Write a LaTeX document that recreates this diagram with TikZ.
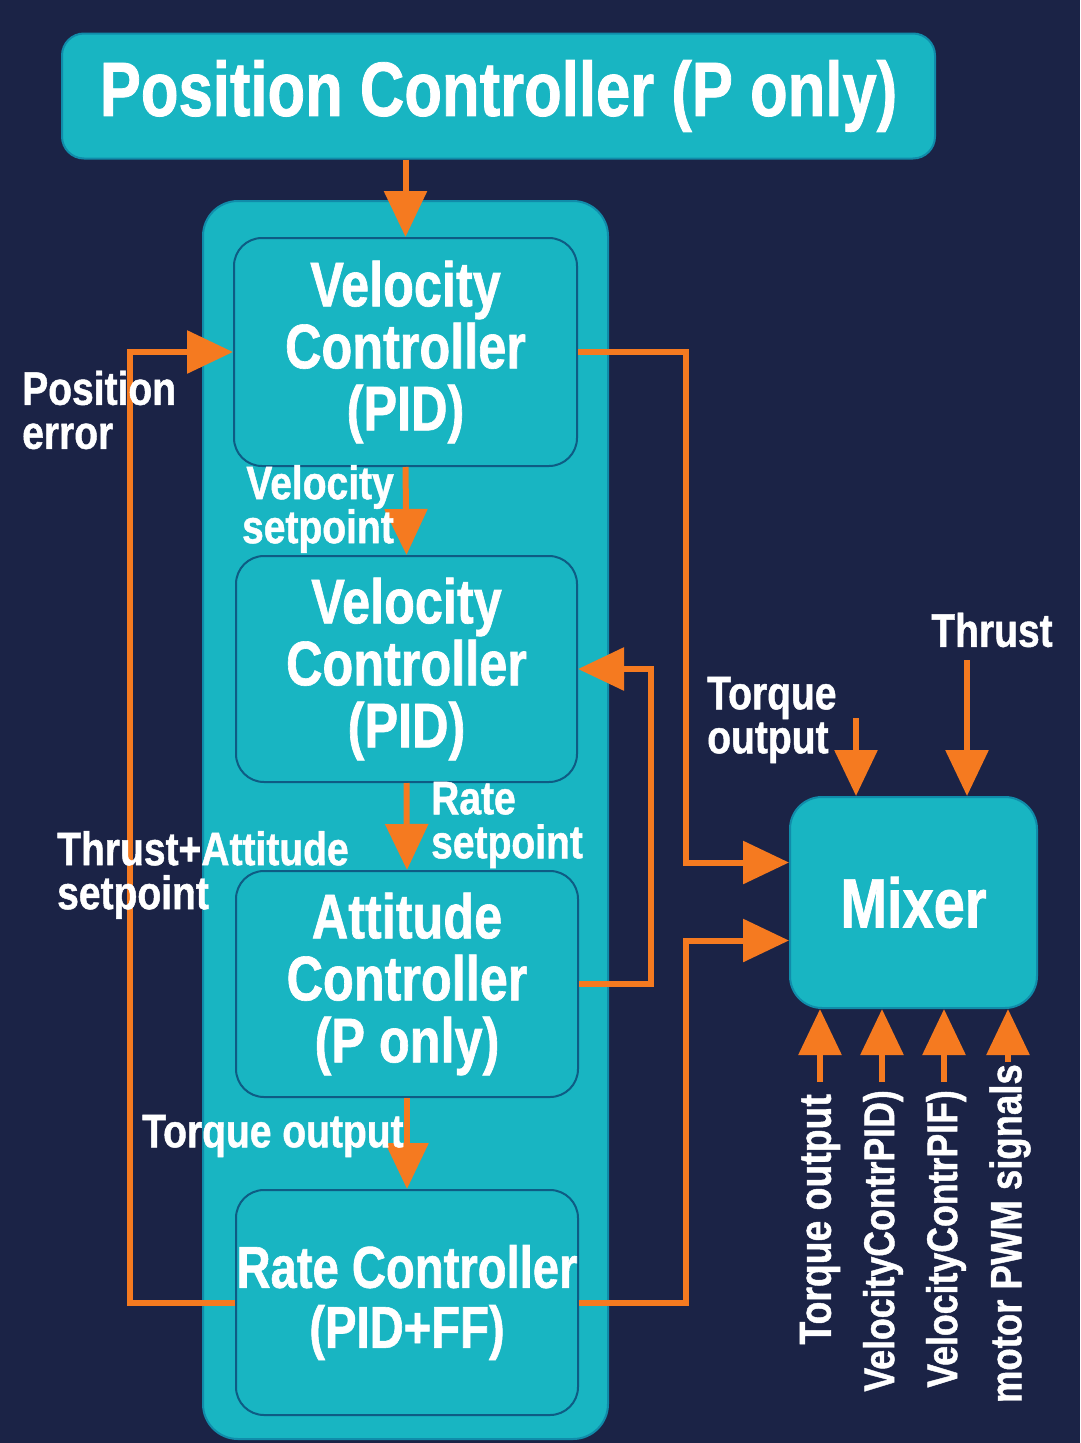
\documentclass[tikz,border=0pt]{standalone}
\usepackage{fontspec}
\newfontfamily\df[FakeStretch=0.8,FakeBold=1]{Liberation Sans}
\newfontfamily\dl[FakeStretch=0.83,FakeBold=1]{Liberation Sans}
\usetikzlibrary{arrows.meta}
\definecolor{bgc}{RGB}{27,35,70}
\definecolor{teal1}{RGB}{24,181,194}
\definecolor{edge1}{RGB}{14,92,132}
\definecolor{edge2}{RGB}{16,140,170}
\definecolor{org}{RGB}{245,122,32}
\begin{document}
\begin{tikzpicture}[x=1pt,y=-1pt,
 box/.style={draw=edge1, line width=2pt, fill=teal1, rounded corners=28pt, text=white, align=center, inner sep=0pt},
 boxtxt/.style={font=\df\bfseries\fontsize{63pt}{62pt}\selectfont},
 lbl/.style={text=white, inner sep=0pt, font=\dl\bfseries\fontsize{47pt}{44pt}\selectfont},
 arr/.style={draw=org, line width=6pt, -{Triangle[length=46pt,width=42pt]}}]
\fill[bgc] (0,0) rectangle (1080,1443);
\useasboundingbox (0,0) rectangle (1080,1443);

% title
\node[box, draw=edge2, minimum width=873pt, minimum height=125pt, rounded corners=22pt,
  font=\df\bfseries\fontsize{77pt}{76pt}\selectfont] (pos) at (498.5,96) {Position Controller (P only)};

% container
\node[box, draw=edge2, minimum width=405pt, minimum height=1238pt, rounded corners=35pt] (cont) at (405.5,820) {};

% inner boxes
\node[box, boxtxt, minimum width=343pt, minimum height=228pt] (v1) at (405.5,352) {Velocity\\Controller\\(PID)};
\node[box, boxtxt, minimum width=341pt, minimum height=226pt] (v2) at (406.5,669) {Velocity\\Controller\\(PID)};
\node[box, boxtxt, minimum width=342pt, minimum height=226pt] (att) at (407,984) {Attitude\\Controller\\(P only)};
\node[box, font=\df\bfseries\fontsize{59pt}{60pt}\selectfont, minimum width=342pt, minimum height=225pt] (rc) at (407,1302.5) {Rate Controller\\(PID+FF)};

% mixer
\node[box, draw=edge2, font=\df\bfseries\fontsize{70pt}{70pt}\selectfont, minimum width=247pt, minimum height=211pt, rounded corners=32pt] (mix) at (913.5,902.5) {Mixer};

% vertical chain
\draw[arr] (pos.south -| v1.north) -- (v1.north);
\draw[arr] (v1.south) -- (v2.north);
\draw[arr] (v2.south) -- (att.north);
\draw[arr] (att.south) -- (rc.north);

% loops
\draw[arr] (rc.west) -- ++(-105,0) |- (v1.west);
\draw[arr] (v1.east) -- ++(108,0) |- ([yshift=40pt]mix.west);
\draw[arr] (att.east) -- ++(72,0) |- (v2.east);
\draw[arr] (rc.east) -- ++(107,0) |- ([yshift=-38pt]mix.west);

% inputs to mixer
\coordinate (tq) at (856,718);
\coordinate (th) at (967,660);
\draw[arr] (tq) -- (tq |- mix.north);
\draw[arr] (th) -- (th |- mix.north);
\coordinate (b1) at (820,1082);
\coordinate (b2) at (882,1082);
\coordinate (b3) at (944,1082);
\coordinate (b4) at (1008,1062);
\draw[arr] (b1) -- (b1 |- mix.south);
\draw[arr] (b2) -- (b2 |- mix.south);
\draw[arr] (b3) -- (b3 |- mix.south);
\draw[arr] (b4) -- (b4 |- mix.south);

% labels
\node[lbl, align=left, anchor=west] (lpe) at (22,410) {Position\\error};
\node[lbl, align=right, anchor=east] (lvs) at (394,509) {Velocity\\setpoint};
\node[lbl, align=left, anchor=west] (lrs) at (431,825) {Rate\\setpoint};
\node[lbl, align=left, anchor=west] (lta) at (57,875) {Thrust+Attitude\\setpoint};
\node[lbl, anchor=west] (lto) at (142,1136) {Torque output};
\node[lbl, align=left, anchor=west] (lmt) at (707,720) {Torque\\output};
\node[lbl] (lth) at (992,630) {Thrust};
\node[lbl, font=\dl\bfseries\fontsize{45pt}{44pt}\selectfont, rotate=90, anchor=east] (r1) at (820,1094) {Torque output};
\node[lbl, font=\dl\bfseries\fontsize{43pt}{44pt}\selectfont, rotate=90, anchor=east] (r2) at (883,1090) {VelocityContrPID)};
\node[lbl, font=\dl\bfseries\fontsize{43pt}{44pt}\selectfont, rotate=90, anchor=east] (r3) at (946,1090) {VelocityContrPIF)};
\node[lbl, font=\dl\bfseries\fontsize{44pt}{44pt}\selectfont, rotate=90, anchor=east] (r4) at (1010,1064) {motor PWM signals};
\end{tikzpicture}
\end{document}
